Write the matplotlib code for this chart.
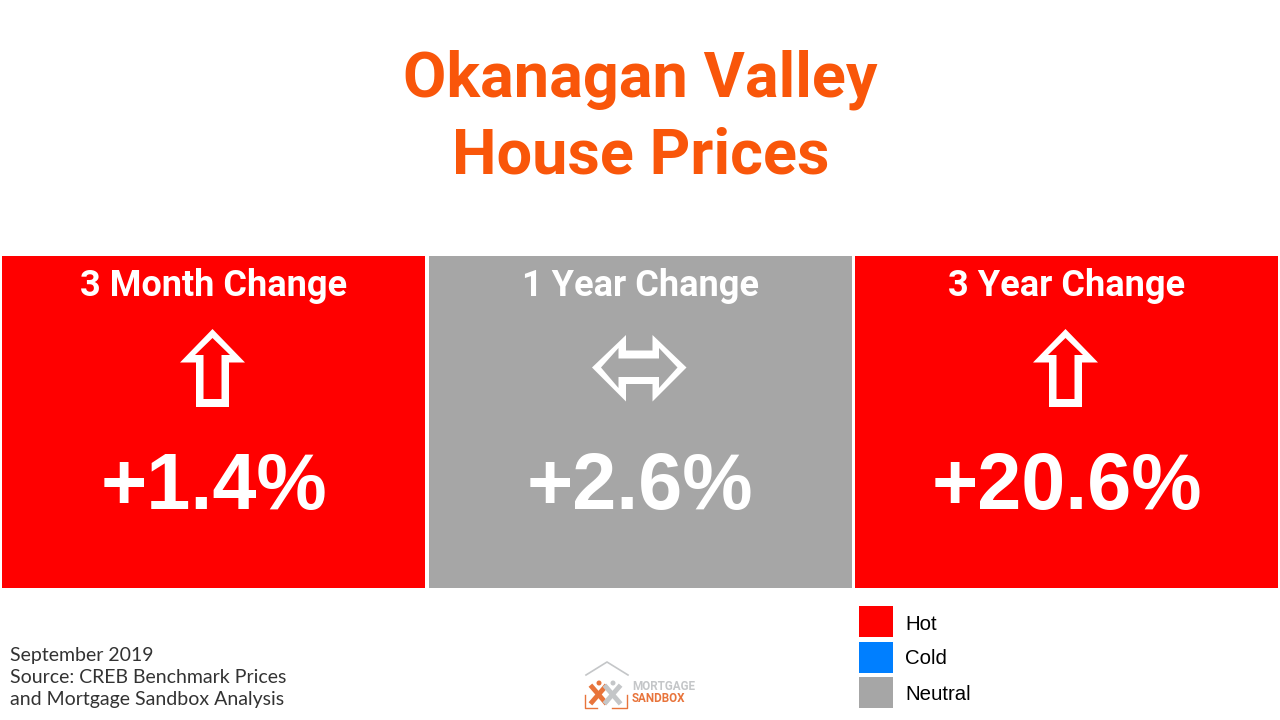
import matplotlib
matplotlib.use("Agg")
import matplotlib.pyplot as plt
from matplotlib.patches import Polygon, Circle

title_lines = ["Okanagan Valley", "House Prices"]
periods = ["3 Month Change", "1 Year Change", "3 Year Change"]
changes = [1.4, 2.6, 20.6]
statuses = ["Hot", "Neutral", "Hot"]
legend_labels = ["Hot", "Cold", "Neutral"]
source_lines = ["September 2019", "Source: CREB Benchmark Prices", "and Mortgage Sandbox Analysis"]

colors = {"Hot": "#FF0000", "Cold": "#007FFF", "Neutral": "#A6A6A6"}
orange = "#F9560A"

UP_OUT = [(-1, 329), (31.5, 362.5), (15.5, 362.5), (15.5, 407), (-17.5, 407), (-17.5, 362.5), (-33.5, 362.5)]
UP_IN = [(-1, 338), (16.5, 355), (8, 355), (8, 399), (-10, 399), (-10, 355), (-18.5, 355)]
BOTH_OUT = [(-48, 367.5), (-14, 335), (-14, 350.5), (12.5, 350.5), (12.5, 335), (46.5, 367.5),
            (12.5, 401.5), (12.5, 384), (-14, 384), (-14, 401.5)]
BOTH_IN = [(-39, 367.5), (-21.5, 348), (-21.5, 358.5), (19, 358.5), (19, 348), (37.5, 367.5),
           (19, 388), (19, 377), (-21.5, 377), (-21.5, 388)]

fig = plt.figure(figsize=(12.8, 7.2), dpi=100, facecolor="white")
ax = fig.add_axes([0, 0, 1, 1])
ax.set_xlim(0, 1280)
ax.set_ylim(720, 0)
ax.axis("off")

# title
for i, line in enumerate(title_lines):
    ax.text(640.5, 80 + 77 * i, line, color=orange, fontsize=45.4, fontweight="bold",
            family="Roboto", ha="center", va="center")

# three panels
for i, period in enumerate(periods):
    cx = 213.5 + 426.5 * i
    col = colors[statuses[i]]
    ax.bar(cx, 332, bottom=256, width=423, color=col, linewidth=0)
    ax.text(cx, 286, period, color="white", fontsize=26, fontweight="bold",
            family="Roboto", ha="center", va="center")
    outer, inner = (UP_OUT, UP_IN) if statuses[i] == "Hot" else (BOTH_OUT, BOTH_IN)
    ax.add_patch(Polygon([(cx + x, y) for x, y in outer], closed=True, color="white", lw=0))
    ax.add_patch(Polygon([(cx + x, y) for x, y in inner], closed=True, color=col, lw=0))
    ax.text(cx, 489, f"+{changes[i]}%", color="white", fontsize=57, fontweight="bold",
            family="Liberation Sans", ha="center", va="center")

# legend
for i, lab in enumerate(legend_labels):
    ax.bar(876, 31, bottom=606 + 35.5 * i, width=34, color=colors[lab], linewidth=0)
    ax.text(905, 624 + 35 * i, lab, color="black", fontsize=14.7,
            family="Liberation Sans", ha="left", va="center")

# source note
for i, line in enumerate(source_lines):
    ax.text(10, 655 + 22.5 * i, line, color="#333333", fontsize=14,
            family="Lato", ha="left", va="center")

# logo
grey = "#C4C6C8"
logo_orange = "#E8743B"
ax.plot([586, 607, 628], [675, 662, 675], color=grey, lw=1.2)
ax.plot([585, 585, 597], [695, 708, 708], color=logo_orange, lw=1)
ax.plot([612, 627, 627], [708, 708, 695], color=logo_orange, lw=1)
ax.plot([592, 605], [687, 702], color=logo_orange, lw=3.5)
ax.plot([605, 592], [687, 702], color=logo_orange, lw=3.5)
ax.plot([606, 619], [687, 702], color=grey, lw=3.5)
ax.plot([619, 606], [687, 702], color=grey, lw=3.5)
ax.add_patch(Circle((599, 683), 2.5, color=logo_orange, lw=0))
ax.add_patch(Circle((613, 683), 2.5, color=grey, lw=0))
ax.text(632, 687, "MORTGAGE", color=grey, fontsize=8.4, fontweight="bold",
        family="Roboto", ha="left", va="center")
ax.text(632, 699, "SANDBOX", color=logo_orange, fontsize=8.4, fontweight="bold",
        family="Roboto", ha="left", va="center")

fig.savefig("out.png", dpi=100)
